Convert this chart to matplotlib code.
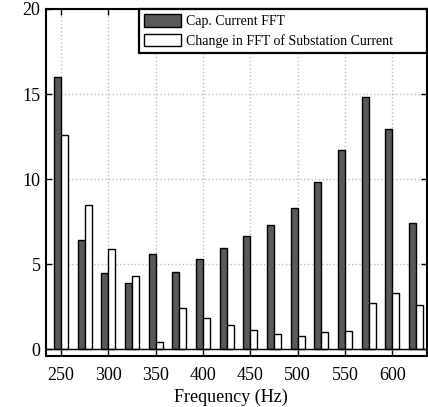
import matplotlib
matplotlib.use("Agg")
import matplotlib.pyplot as plt
import numpy as np

plt.rcParams['font.family'] = ['Liberation Serif', 'DejaVu Serif']

freqs = [250, 275, 300, 325, 350, 375, 400, 425, 450, 475, 500, 525, 550, 575, 600, 625]
cap_fft = [16.0, 6.4, 4.5, 3.9, 5.6, 4.55, 5.3, 5.95, 6.65, 7.3, 8.33, 9.85, 11.7, 14.85, 12.95, 7.4]
change_fft = [12.6, 8.5, 5.9, 4.3, 0.45, 2.4, 1.85, 1.45, 1.15, 0.9, 0.8, 1.0, 1.05, 2.7, 3.3, 2.6]
xticks = [250, 300, 350, 400, 450, 500, 550, 600]
yticks = [0, 5, 10, 15, 20]

fig = plt.figure(figsize=(4.28, 4.07), dpi=100)
ax = fig.add_axes([0.1075, 0.1253, 0.8902, 0.8526])

x = np.array(freqs, dtype=float)
w = 7.4
ax.bar(x - w / 2, cap_fft, width=w, color='#595959', edgecolor='black', linewidth=1.0,
       label='Cap. Current FFT', zorder=3)
ax.bar(x + w / 2, change_fft, width=w, color='white', edgecolor='black', linewidth=1.0,
       label='Change in FFT of Substation Current', zorder=3)
ax.axhline(0, color='black', linewidth=1.0, zorder=4)

ax.set_xlim(234.2, 636.5)
ax.set_ylim(-0.4, 20)
ax.set_xticks(xticks)
ax.set_yticks(yticks)
ax.tick_params(axis='both', which='both', direction='in', length=4, width=1,
               top=True, right=True, labelsize=13)
ax.tick_params(axis='x', pad=8)
ax.tick_params(axis='y', pad=4)
ax.grid(True, linestyle=':', color='#bdbdbd', linewidth=1.0, zorder=0)
ax.set_axisbelow(True)
for s in ax.spines.values():
    s.set_linewidth(1.5)

ax.set_xlabel('Frequency (Hz)', fontsize=13, labelpad=0)
ax.xaxis.set_label_coords(0.484, -0.095)

leg = ax.legend(loc='upper left', bbox_to_anchor=(0.244, 0.87, 0.756, 0.13),
                mode='expand', borderaxespad=0, fontsize=10, handlelength=2.7,
                handleheight=1.05, handletextpad=0.3, labelspacing=0.4,
                borderpad=0.35, fancybox=False, framealpha=1, edgecolor='black')
leg.get_frame().set_linewidth(1.6)

fig.savefig('out.png', dpi=100)
